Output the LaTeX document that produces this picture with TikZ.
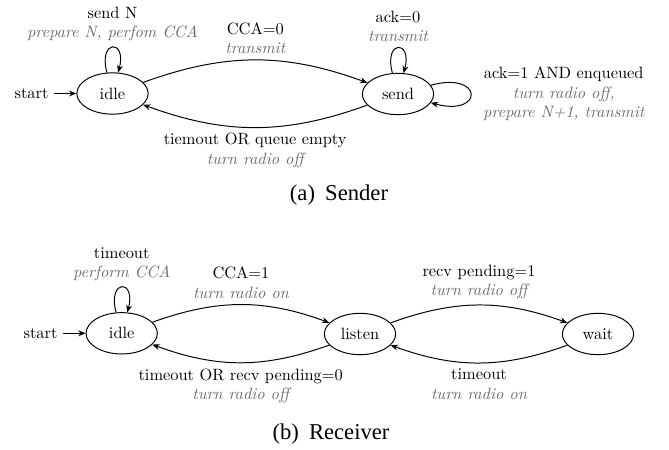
\documentclass[tikz,border=0pt]{standalone}
\usepackage{fontspec}
\newfontfamily\capfont{Liberation Serif}
\usetikzlibrary{arrows.meta,shapes.geometric}
\newcommand{\actn}[1]{\textcolor{black!58}{\itshape #1}}
\begin{document}
\begin{tikzpicture}[x=0.61pt,y=-0.61pt,
  >={Stealth[length=4.5pt,width=3.6pt]},
  semithick,
  fsm/.style={draw,ellipse,minimum width=43.5pt,minimum height=25.2pt,inner sep=0pt},
  lbl/.style={align=center,font=\fontsize{10}{12}\selectfont},
  captext/.style={font=\capfont\fontsize{13.8}{16}\selectfont}]
\path[use as bounding box] (0,0) rectangle (669,449);

% ---------- Sender ----------
\node[fsm] (sidle) at (112.5,93.5) {idle};
\node[fsm] (ssend) at (398,94) {send};
\node (sstart) at (31.5,93.5) {start};
\draw[->] (sstart) -- (sidle);

\draw[->] (sidle) to[loop above] node[lbl,above] {send N\\\actn{prepare N, perfom CCA}} (sidle);
\draw[->] (ssend) to[loop above] node[lbl,above] {ack=0\\\actn{transmit}} (ssend);
\draw[->] (ssend) to[loop right] node[lbl,right,xshift=4pt] {ack=1 AND enqueued\\\actn{turn radio off,}\\\actn{prepare N+1, transmit}} (ssend);

\draw[->] (sidle) to[bend left=20] node[lbl,above] {CCA=0\\\actn{transmit}} (ssend);
\draw[->] (ssend) to[bend left=20] node[lbl,below] {tiemout OR queue empty\\\actn{turn radio off}} (sidle);

\node[captext] (capa) at (339,195) {(a)\hspace{0.45em}Sender};

% ---------- Receiver ----------
\node[fsm] (ridle) at (121.7,333.3) {idle};
\node[fsm] (rlisten) at (360,334) {listen};
\node[fsm] (rwait) at (598,334) {wait};
\node (rstart) at (40.5,333.3) {start};
\draw[->] (rstart) -- (ridle);

\draw[->] (ridle) to[loop above] node[lbl,above] {timeout\\\actn{perform CCA}} (ridle);

\draw[->] (ridle) to[bend left=20] node[lbl,above] {CCA=1\\\actn{turn radio on}} (rlisten);
\draw[->] (rlisten) to[bend left=20] node[lbl,below] {timeout OR recv pending=0\\\actn{turn radio off}} (ridle);
\draw[->] (rlisten) to[bend left=20] node[lbl,above] {recv pending=1\\\actn{turn radio off}} (rwait);
\draw[->] (rwait) to[bend left=20] node[lbl,below] {timeout\\\actn{turn radio on}} (rlisten);

\node[captext] (capb) at (331,434) {(b)\hspace{0.45em}Receiver};
\end{tikzpicture}
\end{document}
